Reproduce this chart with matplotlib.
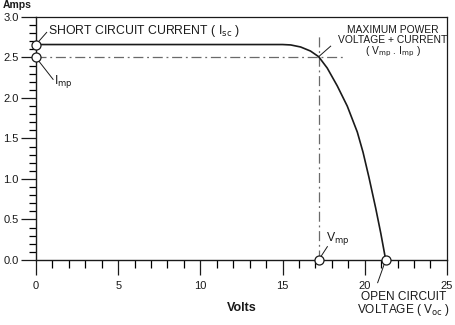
import matplotlib.pyplot as plt
from matplotlib.ticker import MultipleLocator

plt.rcParams["font.family"] = ["Liberation Sans", "DejaVu Sans"]

# I-V curve
volts = [0, 5, 10, 15, 15.5, 16.1, 16.7, 17.2, 17.72, 18.33, 18.94, 19.55, 19.9, 20.26, 20.67, 20.98, 21.28]
amps = [2.66, 2.66, 2.66, 2.66, 2.655, 2.63, 2.58, 2.51, 2.37, 2.15, 1.90, 1.58, 1.33, 1.02, 0.64, 0.33, 0.0]

isc = 2.66
imp = 2.5
vmp = 17.2
voc = 21.28

ink = "#1a1a1a"
guide = "#6a6a6a"
fig = plt.figure(figsize=(4.55, 3.25), dpi=100)
ax = fig.add_axes([0.0791, 0.2, 0.903, 0.7477])

ax.plot(volts, amps, color=ink, lw=1.2, zorder=3)

# dash-dot guides through the max power point
ax.plot([0, 18.7], [imp, imp], color=guide, lw=0.9, dashes=(8, 3, 1.5, 3), zorder=2)
ax.plot([vmp, vmp], [0, 2.78], color=guide, lw=0.9, dashes=(8, 3, 1.5, 3), zorder=2)

# leader lines from the points to their labels
leaders = [
    ([0, 0.65], [isc, 2.81]),
    ([0, 1.04], [imp, 2.23]),
    ([vmp, 17.93], [2.51, 2.64]),
    ([vmp, 17.73], [0, 0.165]),
    ([voc, 20.79], [0, -0.28]),
]
for lx, ly in leaders:
    ax.plot(lx, ly, color=ink, lw=0.7, clip_on=False, zorder=4)

# open circles
ax.plot([0, 0, vmp, voc], [isc, imp, 0, 0], "o", ms=6.5, mfc="white", mec=ink,
        mew=0.9, clip_on=False, zorder=5)

ax.set_xlim(0, 25)
ax.set_ylim(0, 3.0)
ax.xaxis.set_major_locator(MultipleLocator(5))
ax.xaxis.set_minor_locator(MultipleLocator(1))
ax.yaxis.set_major_locator(MultipleLocator(0.5))
ax.yaxis.set_minor_locator(MultipleLocator(0.1))
ax.yaxis.set_major_formatter(plt.FormatStrFormatter("%.1f"))
ax.tick_params(axis="x", which="major", direction="out", length=11, width=0.9, pad=4,
               labelsize=8, colors=ink)
ax.tick_params(axis="x", which="minor", direction="out", length=5.5, width=0.9)
ax.tick_params(axis="y", which="major", direction="out", length=11, width=0.9, pad=1.5,
               labelsize=8, colors=ink)
ax.tick_params(axis="y", which="minor", direction="out", length=5, width=0.9)
for s in ax.spines.values():
    s.set_color(ink)
    s.set_linewidth(0.9)
ax.spines["left"].set_linewidth(1.0)
ax.spines["bottom"].set_linewidth(1.0)

ax.text(0.73, 2.83, "SHORT CIRCUIT CURRENT ( I$_{\\rm sc}$ )", ha="left", va="center",
        fontsize=8.8, color=ink)
ax.text(1.12, 2.2, "I$_{\\rm mp}$", ha="left", va="center", fontsize=8.8, color=ink)
ax.text(21.7, 2.69, "MAXIMUM POWER\nVOLTAGE + CURRENT\n( V$_{\\rm mp}$ . I$_{\\rm mp}$ )",
        ha="center", va="center", linespacing=1.0, fontsize=7.4, color=ink)
ax.text(17.62, 0.27, "V$_{\\rm mp}$", ha="left", va="center", fontsize=8.8, color=ink)
ax.text(22.38, -0.55, "OPEN CIRCUIT\nVOLTAGE ( V$_{\\rm oc}$ )", ha="center", va="center",
        linespacing=0.9, fontsize=8.6, color=ink, clip_on=False)

fig.text(242 / 455, 1 - 308 / 325, "Volts", ha="center", va="center",
         fontsize=9, fontweight="bold", color=ink)
fig.text(3 / 455, 1 - 0.5 / 325, "Amps", ha="left", va="top",
         fontsize=7.5, fontweight="bold", color=ink)

fig.savefig("out.png", dpi=100)
